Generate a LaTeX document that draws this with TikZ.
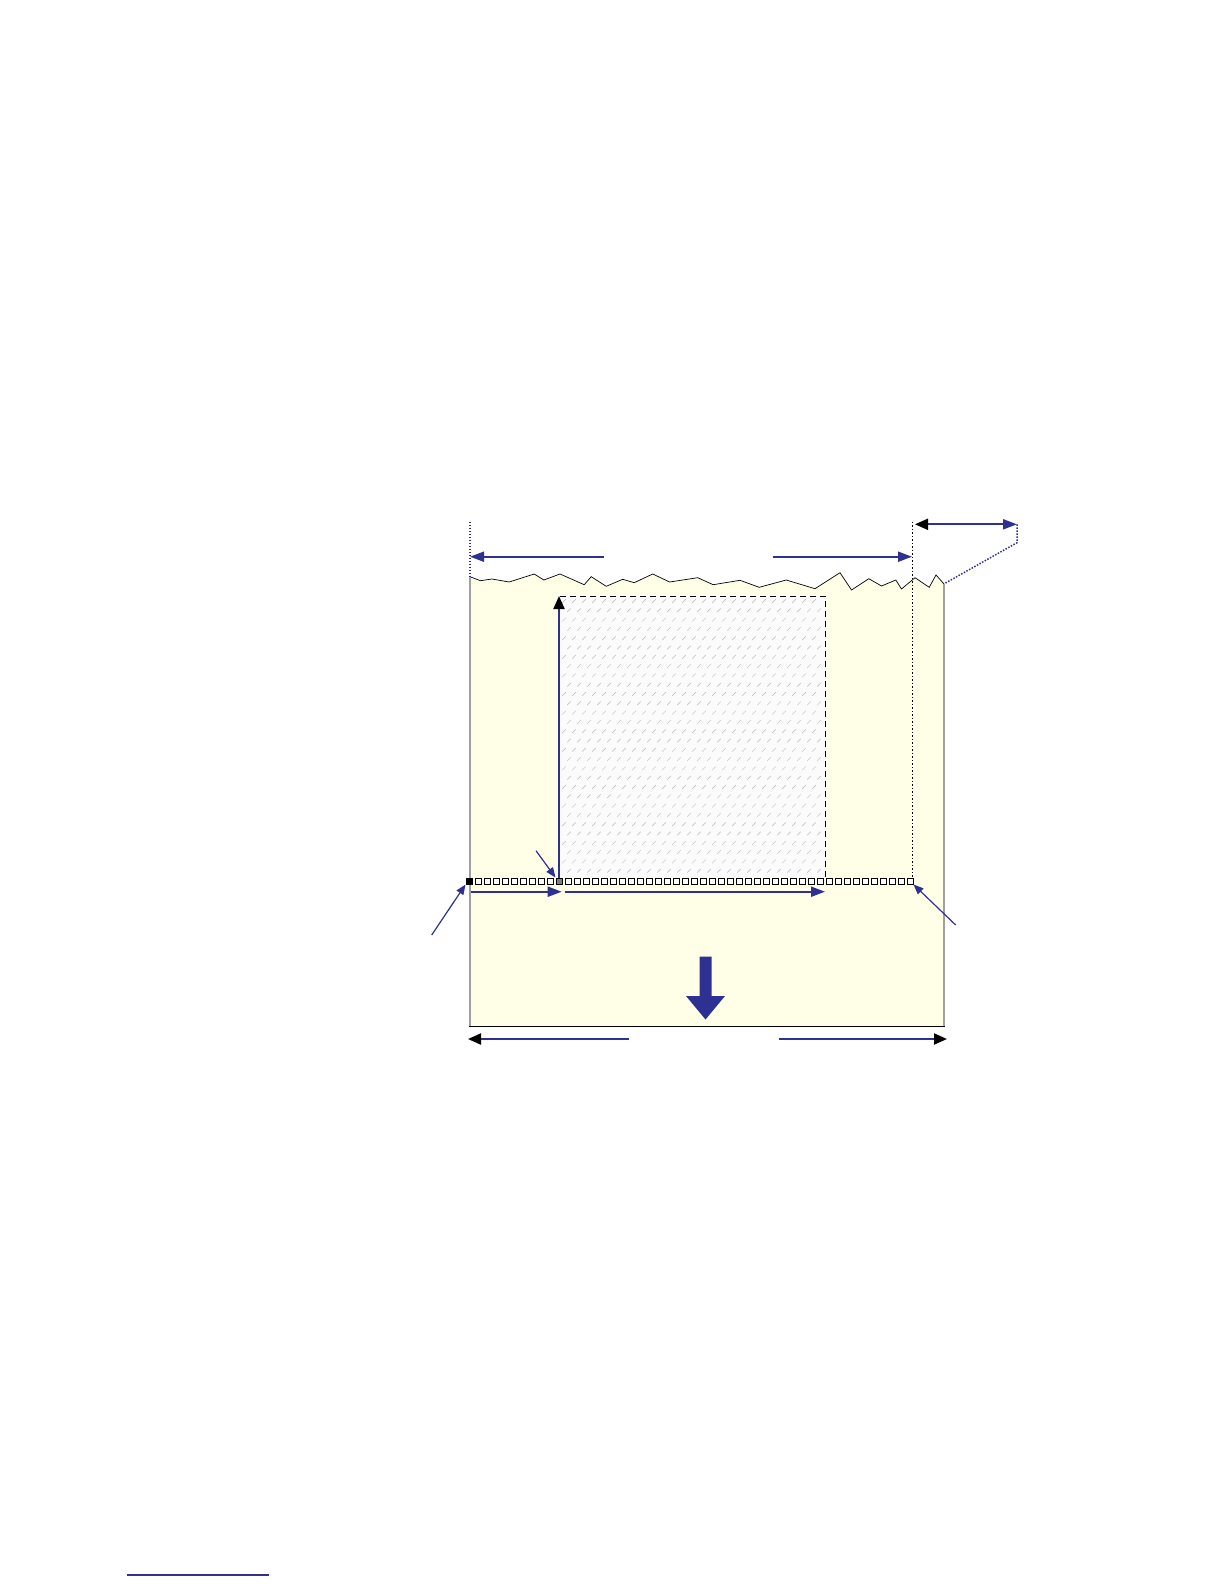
\documentclass[tikz,border=0pt]{standalone}
\usepackage{xcolor}
\usepackage{tikz}
\usetikzlibrary{arrows.meta}

\definecolor{inkblue}{RGB}{46,49,146}
\definecolor{paperyellow}{RGB}{255,255,232}
\definecolor{edgegrey}{RGB}{160,160,160}
\definecolor{hatchbg}{RGB}{251,251,252}
\definecolor{hatchgrey}{RGB}{185,185,188}

\tikzset{
  dimarrow/.style = {draw = inkblue, line width = 2pt,
      -{Triangle[length=14pt, width=10pt]}},
  darkarrow/.style = {draw = inkblue, line width = 2pt,
      -{Triangle[length=13pt, width=11pt, color=black]}},
  pointer/.style = {draw = inkblue, line width = 1.2pt,
      -{Triangle[length=10pt, width=8pt]}},
  bluedots/.style = {draw = inkblue, line width = 1.5pt,
      dash pattern = on 1.5pt off 1.5pt},
  blackdots/.style = {draw = black, line width = 0.8pt,
      dash pattern = on 1.5pt off 2pt},
  sqbox/.style = {rectangle, draw = black, fill = white,
      line width = 0.8pt, minimum size = 6.2pt, inner sep = 0pt},
  hatchmark/.style = {draw = hatchgrey, line width = 0.45pt},
}

\begin{document}
\begin{tikzpicture}[x=1pt, y=-1pt]
\useasboundingbox (0,0) rectangle (1224,1584);

% paper with torn top edge
\draw[fill = paperyellow, line width = 0.7pt]
  (470,1026) -- (470,576.7) -- (480.4,580.7) -- (491.9,579) -- (509.2,582)
  -- (534.2,574) -- (543.8,580) -- (560,574) -- (584.2,584.7) -- (591.2,576.7)
  -- (606.2,586.3) -- (622.7,579.3) -- (634.2,582.7) -- (652.7,574)
  -- (669.6,582) -- (697.7,577.7) -- (713.1,584.7) -- (740,580.3)
  -- (759.2,587.3) -- (786.2,580) -- (815,588.7) -- (840,572.7)
  -- (851.5,590) -- (868.8,578.7) -- (881.5,586) -- (895.8,580)
  -- (901.5,589) -- (915,577.7) -- (929.2,587.3) -- (936,575) -- (944,584)
  -- (944,1026);
\draw[edgegrey, line width = 1.3pt] (470,576.7) -- (470,1026);
\draw[edgegrey, line width = 1.3pt] (944,584) -- (944,1026);
\draw[black, line width = 1pt] (469.4,1026) -- (944.6,1026);

% print area
\coordinate (areaTL) at (560,596);
\coordinate (areaTR) at (825,596);
\coordinate (areaBR) at (825,877);
\fill[hatchbg] (areaTL) rectangle (areaBR);
\foreach \r in {0,...,29}
  \foreach \c in {0,...,25}
    \draw[hatchmark] ({564+10*\c+5*mod(\r,2)},{601+9.3*\r}) ++(-1.8,1.8) -- ++(3.6,-3.6);
\draw[black, line width = 1pt, dash pattern = on 6pt off 4pt]
  (areaTL) -- (areaTR) -- (areaBR);

% row of dots
\foreach \i in {1,...,9,11,12,...,49}
  \node[sqbox] (sq\i) at ({469+9*\i},881) {};
\node[sqbox, fill = black] (sq0) at (469,881) {};
\node[sqbox, fill = gray] (sq10) at (559,881) {};

% top dimension
\coordinate (topL) at (470,556.7);
\coordinate (topLgap) at (603.5,556.7);
\coordinate (topRgap) at (772.7,556.7);
\coordinate (topR) at (912,556.7);
\draw[dimarrow] (topLgap) -- (topL);
\draw[dimarrow] (topRgap) -- (topR);
\draw[bluedots] (470,521.7) -- (470,576.7);

% margin dimension
\coordinate (edgeTop) at (912,521.7);
\coordinate (marginL) at (915,524.3);
\coordinate (marginR) at (1017,524.3);
\draw[blackdots] (edgeTop) -- (edgeTop |- sq49.north);
\draw[draw = inkblue, line width = 2pt,
    {Triangle[length=13pt, width=11pt, color=black]}-{Triangle[length=14pt, width=10pt]}]
  (marginL) -- (marginR);
\draw[bluedots] (marginR) -- (1017,542.7) -- (945,583.3);

% feed steps along the dot row
\coordinate (feedA) at (470.7,891.7);
\coordinate (feedB) at (561.7,891.7);
\coordinate (feedC) at (565,891.7);
\coordinate (feedD) at (825,891.7);
\draw[dimarrow] (feedA) -- (feedB);
\draw[dimarrow] (feedC) -- (feedD);
\draw[darkarrow] (sq10.north) -- (559,596);

% pointers
\coordinate (ptrA) at (431.7,935);
\coordinate (ptrB) at (536,850.7);
\coordinate (ptrC) at (955.7,925);
\draw[pointer] (ptrA) -- (sq0.south west);
\draw[pointer] (ptrB) -- (sq10.north west);
\draw[pointer] (ptrC) -- (sq49.south east);

% paper feed direction
\fill[inkblue] (699.5,956.7) -- (711.5,956.7) -- (711.5,996) -- (725,996)
  -- (705.5,1019.5) -- (686,996) -- (699.5,996) -- cycle;

% bottom dimension
\coordinate (botL) at (468,1039);
\coordinate (botLgap) at (629,1039);
\coordinate (botRgap) at (779,1039);
\coordinate (botR) at (947,1039);
\draw[darkarrow] (botLgap) -- (botL);
\draw[darkarrow] (botRgap) -- (botR);

% footnote rule
\draw[inkblue, line width = 1.2pt] (127,1575) -- (269,1575);

\end{tikzpicture}
\end{document}
